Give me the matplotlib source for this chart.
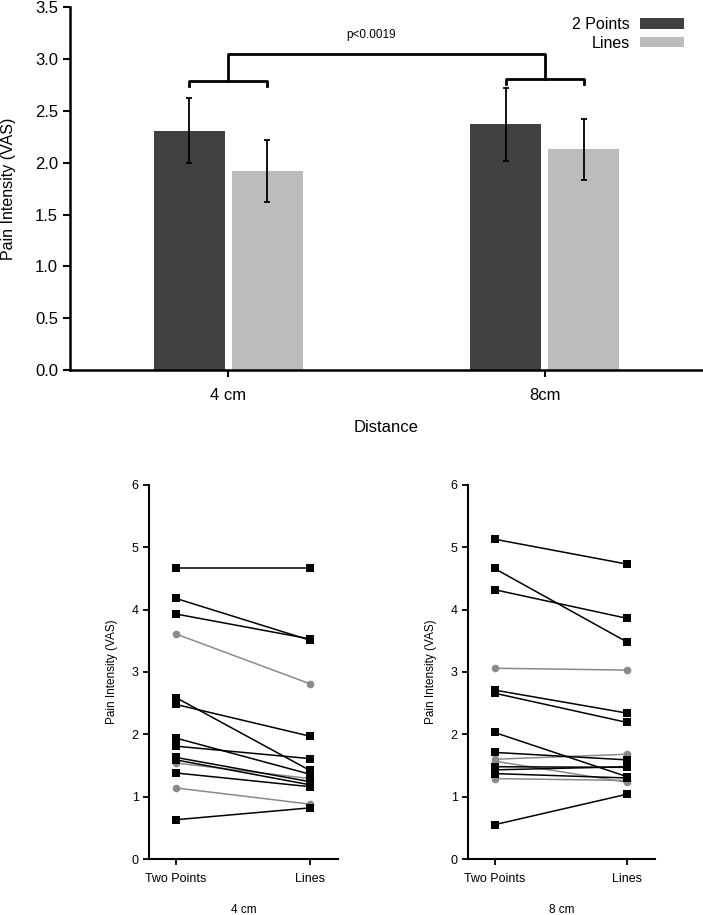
import numpy as np
import matplotlib
matplotlib.use('Agg')
import matplotlib.pyplot as plt

plt.rcParams['font.family'] = ['Liberation Sans', 'DejaVu Sans']

# Top panel: mean pain intensity by distance
distances = ['4 cm', '8cm']
two_points_mean = [2.31, 2.37]
two_points_err = [0.315, 0.355]
lines_mean = [1.92, 2.13]
lines_err = [0.30, 0.295]

# Lower panels: individual subjects (Two Points -> Lines)
cond_labels = ['Two Points', 'Lines']
cm4_black_two = [4.66, 4.18, 3.93, 2.59, 2.48, 1.94, 1.81, 1.63, 1.59, 1.38, 0.63]
cm4_black_lines = [4.66, 3.51, 3.53, 1.42, 1.97, 1.36, 1.61, 1.24, 1.19, 1.16, 0.82]
cm4_gray_two = [3.61, 1.54, 1.14]
cm4_gray_lines = [2.81, 1.29, 0.88]

cm8_black_two = [5.13, 4.66, 4.32, 2.71, 2.66, 2.03, 1.71, 1.48, 1.43, 1.37, 0.55]
cm8_black_lines = [4.73, 3.48, 3.86, 2.34, 2.19, 1.32, 1.59, 1.47, 1.48, 1.30, 1.04]
cm8_gray_two = [3.06, 1.60, 1.57, 1.29]
cm8_gray_lines = [3.03, 1.68, 1.23, 1.26]

dark = '#414141'
light = '#bcbcbc'

fig = plt.figure(figsize=(7.03, 9.15), dpi=100)

# %% top bar chart
ax = fig.add_axes([0.0996, 0.5956, 0.9004, 0.3964])
x = np.arange(len(distances))
w = 0.225
off = 0.123
ax.bar(x - off, two_points_mean, w, color=dark, label='2 Points')
ax.bar(x + off, lines_mean, w, color=light, label='Lines')
ax.errorbar(x - off, two_points_mean, yerr=two_points_err, fmt='none',
            ecolor='black', elinewidth=1.3, capsize=2, capthick=1.3)
ax.errorbar(x + off, lines_mean, yerr=lines_err, fmt='none',
            ecolor='black', elinewidth=1.3, capsize=2, capthick=1.3)

# significance brackets
lw = 2
ax.plot([x[0] - off, x[0] - off, x[0] + off, x[0] + off], [2.74, 2.79, 2.79, 2.74], color='black', lw=lw)
ax.plot([x[1] - off, x[1] - off, x[1] + off, x[1] + off], [2.76, 2.81, 2.81, 2.76], color='black', lw=lw)
ax.plot([x[0], x[0], x[1], x[1]], [2.79, 3.05, 3.05, 2.81], color='black', lw=lw)
ax.text(0.45, 3.23, 'p<0.0019', ha='center', va='center', fontsize=8.5)

ax.set_xlim(-0.5, 1.5)
ax.set_ylim(0, 3.5)
ax.set_yticks(np.arange(0, 3.51, 0.5))
ax.set_yticklabels([f'{v:.1f}' for v in np.arange(0, 3.51, 0.5)])
ax.set_xticks(x)
ax.set_xticklabels(distances)
ax.set_xlabel('Distance', fontsize=12, labelpad=12)
ax.set_ylabel('Pain Intensity (VAS)', fontsize=11.5, labelpad=14)
ax.tick_params(labelsize=12, width=1.5, length=5)
ax.tick_params(axis='x', pad=8)
for s in ['top', 'right']:
    ax.spines[s].set_visible(False)
for s in ['left', 'bottom']:
    ax.spines[s].set_linewidth(1.8)

leg = ax.legend(loc='upper right', bbox_to_anchor=(0.983, 0.995), frameon=False,
                fontsize=11.5, markerfirst=False, handlelength=2.8, handleheight=0.65,
                labelspacing=0.22, handletextpad=0.6, borderaxespad=0.1)
for t in leg.get_texts():
    t.set_ha('right')

# %% lower paired plots
def paired(ax, bt, bl, gt, gl, title):
    for a, b in zip(gt, gl):
        ax.plot([0, 1], [a, b], color='#8a8a8a', lw=1.1, marker='o', ms=5.5,
                markeredgewidth=0)
    for a, b in zip(bt, bl):
        ax.plot([0, 1], [a, b], color='black', lw=1.1, marker='s', ms=5.5,
                markeredgewidth=0)
    ax.set_xlim(-0.2, 1.21)
    ax.set_ylim(0, 6)
    ax.set_yticks(range(0, 7))
    ax.set_xticks([0, 1])
    ax.set_xticklabels(cond_labels)
    ax.set_ylabel('Pain Intensity (VAS)', fontsize=8.5, labelpad=10)
    ax.set_xlabel(title, fontsize=8.5, labelpad=14)
    ax.tick_params(labelsize=9, width=1.3, length=4)
    ax.tick_params(axis='x', pad=6)
    for s in ['top', 'right']:
        ax.spines[s].set_visible(False)
    for s in ['left', 'bottom']:
        ax.spines[s].set_linewidth(1.5)

ax1 = fig.add_axes([0.212, 0.0612, 0.269, 0.4088])
paired(ax1, cm4_black_two, cm4_black_lines, cm4_gray_two, cm4_gray_lines, '4 cm')
ax2 = fig.add_axes([0.6657, 0.0612, 0.266, 0.4088])
paired(ax2, cm8_black_two, cm8_black_lines, cm8_gray_two, cm8_gray_lines, '8 cm')

fig.savefig('out.png', dpi=100)
